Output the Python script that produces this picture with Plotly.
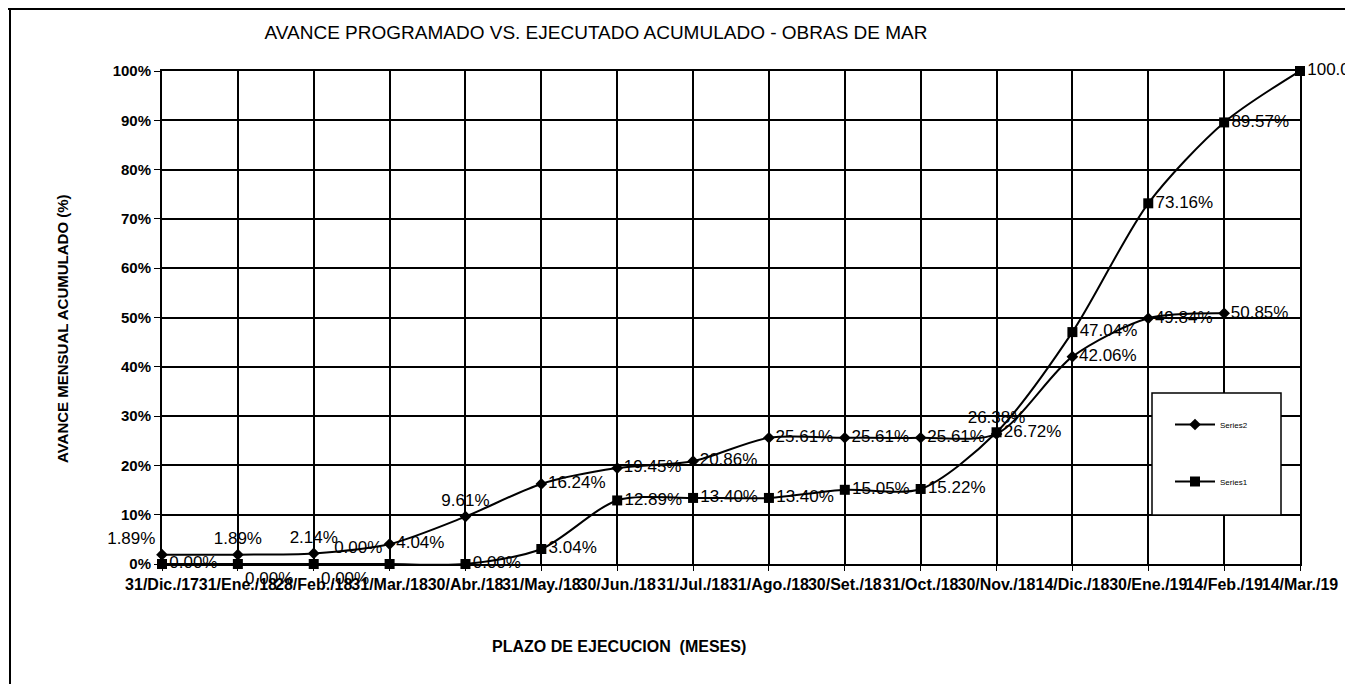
import plotly.graph_objects as go

# ---- data ----
fechas = ["31/Dic./17", "31/Ene./18", "28/Feb./18", "31/Mar./18", "30/Abr./18",
          "31/May./18", "30/Jun./18", "31/Jul./18", "31/Ago./18", "30/Set./18",
          "31/Oct./18", "30/Nov./18", "14/Dic./18", "30/Ene./19", "14/Feb./19",
          "14/Mar./19"]
serie2 = [1.89, 1.89, 2.14, 4.04, 9.61, 16.24, 19.45, 20.86, 25.61, 25.61,
          25.61, 26.38, 42.06, 49.84, 50.85]
serie1 = [0.00, 0.00, 0.00, 0.00, 0.00, 3.04, 12.89, 13.40, 13.40, 15.05,
          15.22, 26.72, 47.04, 73.16, 89.57, 100.00]
y_ticks = [0, 10, 20, 30, 40, 50, 60, 70, 80, 90, 100]

pos2 = ["top left", "top center", "top center", "middle right", "top center",
        "middle right", "middle right", "middle right", "middle right", "middle right",
        "middle right", "top center", "middle right", "middle right", "middle right"]
pos1 = ["middle right", "bottom right", "bottom right", "top left", "middle right",
        "middle right", "middle right", "middle right", "middle right", "middle right",
        "middle right", "middle right", "middle right", "middle right", "middle right",
        "middle right"]

FONT = "Arial, Liberation Sans, sans-serif"
x_idx = list(range(len(fechas)))

fig = go.Figure()
fig.add_trace(go.Scatter(
    x=x_idx[:len(serie2)], y=serie2, name="Series2", legendgroup="a",
    mode="lines+markers+text",
    line=dict(color="black", width=2, shape="spline", smoothing=0.8),
    marker=dict(symbol="diamond", size=9, color="black"),
    text=[f"{v:.2f}%" for v in serie2], textposition=pos2,
    textfont=dict(family=FONT, size=17, color="black"),
    cliponaxis=False,
))
fig.add_trace(go.Scatter(
    x=x_idx, y=serie1, name="Series1", legendgroup="b",
    mode="lines+markers+text",
    line=dict(color="black", width=2, shape="spline", smoothing=0.8),
    marker=dict(symbol="square", size=10, color="black"),
    text=[f"{v:.2f}%" for v in serie1], textposition=pos1,
    textfont=dict(family=FONT, size=17, color="black"),
    cliponaxis=False,
))

OFF = 8  # page body margin
W, H = 1353 - OFF, 684 - OFF
L, R, T, B = 162 - OFF, 1300 - OFF, 71 - OFF, 564 - OFF

def px(x):  # reference page pixel -> paper x
    return (x - OFF - L) / (R - L)

def py(y):  # reference page pixel -> paper y
    return (B - (y - OFF)) / (B - T)

fig.update_layout(
    width=W, height=H,
    margin=dict(l=L, r=W - R, t=T, b=H - B, autoexpand=False),
    paper_bgcolor="white", plot_bgcolor="white",
    font=dict(family=FONT, color="black"),
    title=dict(text="AVANCE PROGRAMADO VS. EJECUTADO ACUMULADO - OBRAS DE MAR",
               x=(596 - OFF) / W, xanchor="center", y=1 - (32 - OFF) / H, yanchor="middle",
               font=dict(family=FONT, size=19, color="black")),
    showlegend=True,
    legend=dict(x=px(1170), y=py(410), xanchor="left", yanchor="top",
                bgcolor="rgba(0,0,0,0)", borderwidth=0,
                font=dict(family=FONT, size=8, color="black"),
                tracegroupgap=38, itemwidth=40),
    xaxis=dict(range=[0, 15], tickmode="array", tickvals=x_idx, ticktext=fechas,
               tickangle=0, showgrid=True, gridcolor="black", gridwidth=1.5,
               showline=True, linecolor="black", linewidth=2, mirror=True,
               ticks="outside", ticklen=5, tickcolor="black",
               tickfont=dict(family=FONT, size=16, color="black", weight="bold"),
               zeroline=False, automargin=False),
    yaxis=dict(range=[0, 100], tickmode="array", tickvals=y_ticks,
               ticktext=[f"{v}%" for v in y_ticks],
               showgrid=True, gridcolor="black", gridwidth=1.5,
               showline=True, linecolor="black", linewidth=2, mirror=True,
               ticks="outside", ticklen=6, tickcolor="black",
               tickfont=dict(family=FONT, size=15, color="black", weight="bold"),
               zeroline=False, automargin=False),
    annotations=[
        dict(text="AVANCE MENSUAL ACUMULADO (%)", textangle=-90,
             xref="paper", yref="paper", x=px(62), y=py(329),
             xanchor="center", yanchor="middle", showarrow=False,
             font=dict(family=FONT, size=15, color="black", weight="bold")),
        dict(text="PLAZO DE EJECUCION  (MESES)",
             xref="paper", yref="paper", x=px(619), y=py(646),
             xanchor="center", yanchor="middle", showarrow=False,
             font=dict(family=FONT, size=16, color="black", weight="bold")),
    ],
    shapes=[
        dict(type="rect", xref="paper", yref="paper",
             x0=px(1152), x1=px(1281), y0=py(515), y1=py(393),
             line=dict(color="black", width=1.5), fillcolor="white", layer="above"),
        dict(type="line", xref="paper", yref="paper",
             x0=px(10), x1=px(10), y0=py(OFF), y1=py(684),
             line=dict(color="black", width=2)),
        dict(type="line", xref="paper", yref="paper",
             x0=px(OFF), x1=px(1353), y0=py(OFF + 1), y1=py(OFF + 1),
             line=dict(color="black", width=2)),
    ],
)

fig.write_html("out.html")
